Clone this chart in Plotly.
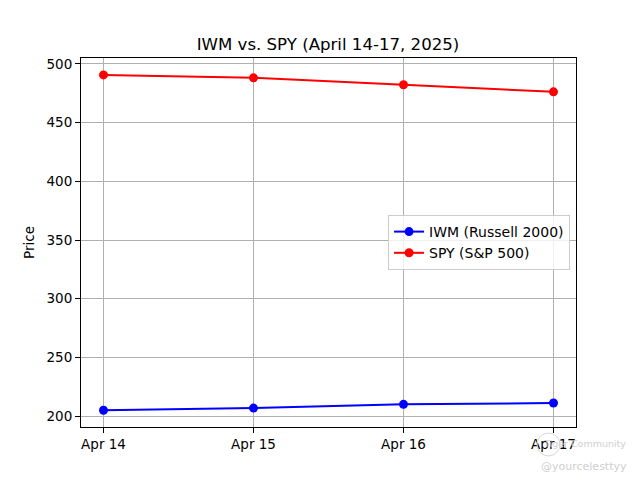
import plotly.graph_objects as go

dates = ["Apr 14", "Apr 15", "Apr 16", "Apr 17"]
iwm = [205.1, 206.9, 210.1, 211.2]
spy = [490.6, 488.1, 482.2, 476.2]
yticks = [200, 250, 300, 350, 400, 450, 500]

font = "DejaVu Sans, Liberation Sans, sans-serif"

fig = go.Figure()
fig.add_trace(go.Scatter(x=dates, y=iwm, mode="lines+markers", name="IWM (Russell 2000)",
                         line=dict(color="blue", width=2), marker=dict(color="blue", size=9)))
fig.add_trace(go.Scatter(x=dates, y=spy, mode="lines+markers", name="SPY (S&P 500)",
                         line=dict(color="red", width=2), marker=dict(color="red", size=9)))

axis_common = dict(showline=True, linecolor="black", linewidth=1, mirror=True,
                   showgrid=True, gridcolor="#b0b0b0", gridwidth=0.8,
                   ticks="outside", ticklen=5, tickcolor="black", tickwidth=1,
                   tickfont=dict(size=13.5, color="black", family=font), zeroline=False)

# page body has an 8px margin, so the figure is offset by 8px in the window
fig.update_layout(
    width=640, height=480,
    margin=dict(l=73, r=72, t=50, b=61),
    paper_bgcolor="white", plot_bgcolor="white",
    font=dict(family=font, color="black"),
    title=dict(text="IWM vs. SPY (April 14-17, 2025)", x=(328 - 8) / 640, xanchor="center",
               y=1 - 36 / 480, yanchor="middle", font=dict(size=16.6, color="black")),
    xaxis=dict(type="category", range=[-0.15, 3.15], **axis_common),
    yaxis=dict(range=[190.8, 505.0], tickvals=yticks, title=dict(text="Price", font=dict(size=13.5), standoff=8),
               **axis_common),
    legend=dict(x=0.988, y=0.5, xanchor="right", yanchor="middle",
                bgcolor="rgba(255,255,255,0.8)", bordercolor="#cccccc", borderwidth=1,
                font=dict(size=14, color="black"), tracegroupgap=0, itemwidth=30),
    showlegend=True,
)

fig.add_annotation(text="Tiger Community", xref="paper", yref="paper", x=(628 - 81) / 495, y=(427 - 444) / 369,
                   xanchor="right", yanchor="middle", showarrow=False,
                   font=dict(size=9.5, color="#d0d0d0"))
fig.add_annotation(text="@yourcelesttyy", xref="paper", yref="paper", x=(629 - 81) / 495, y=(427 - 466) / 369,
                   xanchor="right", yanchor="middle", showarrow=False,
                   font=dict(size=11, color="#d0d0d0"))
fig.add_shape(type="circle", xref="paper", yref="paper",
              x0=(537 - 81) / 495, x1=(560 - 81) / 495, y0=(427 - 456) / 369, y1=(427 - 433) / 369,
              line=dict(color="#d8d8d8", width=1))

fig.write_html("out.html")
